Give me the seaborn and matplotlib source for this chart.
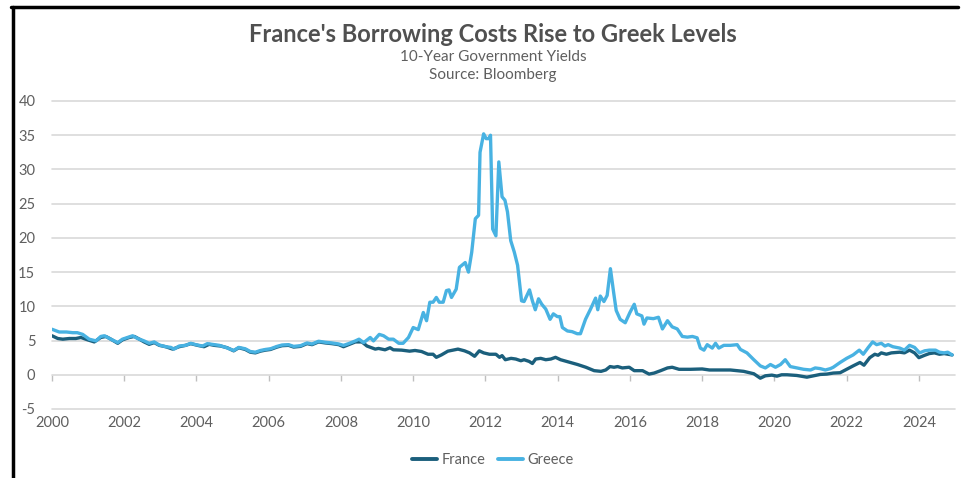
import numpy as np
import pandas as pd
import matplotlib
matplotlib.use("Agg")
import matplotlib.pyplot as plt
from matplotlib.lines import Line2D
import seaborn as sns

# ---------------- data (decimal years, % yields) ----------------
greece_t = [2000.0, 2000.2, 2000.4, 2000.57, 2000.7, 2000.85, 2001.03, 2001.22, 2001.35, 2001.45,
            2001.63, 2001.82, 2001.95, 2002.09, 2002.23, 2002.37, 2002.55, 2002.69, 2002.83, 2002.97,
            2003.15, 2003.29, 2003.38, 2003.52, 2003.7, 2003.84, 2003.98, 2004.17, 2004.3, 2004.44,
            2004.63, 2004.81, 2005.03, 2005.17, 2005.35, 2005.49, 2005.63, 2005.77, 2005.91, 2006.05,
            2006.23, 2006.37, 2006.55, 2006.69, 2006.88, 2007.06, 2007.2, 2007.38, 2007.57, 2007.75,
            2007.94, 2008.07, 2008.21, 2008.4, 2008.5, 2008.63, 2008.81, 2008.9, 2009.06, 2009.18,
            2009.32, 2009.45, 2009.6, 2009.72, 2009.87, 2010.0, 2010.14, 2010.28, 2010.37, 2010.46,
            2010.55, 2010.64, 2010.72, 2010.83, 2010.92, 2010.99, 2011.06, 2011.19, 2011.28, 2011.44,
            2011.53, 2011.62, 2011.72, 2011.81, 2011.85, 2011.95, 2012.02, 2012.09, 2012.14, 2012.2,
            2012.29, 2012.37, 2012.46, 2012.54, 2012.61, 2012.7, 2012.8, 2012.89, 2013.0, 2013.07,
            2013.15, 2013.22, 2013.3, 2013.38, 2013.47, 2013.56, 2013.67, 2013.79, 2013.88, 2013.99,
            2014.06, 2014.13, 2014.27, 2014.4, 2014.54, 2014.63, 2014.77, 2014.91, 2015.05, 2015.11,
            2015.18, 2015.28, 2015.37, 2015.46, 2015.55, 2015.62, 2015.73, 2015.87, 2016.0, 2016.12,
            2016.19, 2016.33, 2016.39, 2016.47, 2016.65, 2016.79, 2016.9, 2017.04, 2017.17, 2017.31,
            2017.45, 2017.59, 2017.73, 2017.86, 2017.95, 2018.05, 2018.14, 2018.28, 2018.37, 2018.46,
            2018.6, 2018.78, 2018.97, 2019.06, 2019.24, 2019.43, 2019.61, 2019.75, 2019.89, 2020.03,
            2020.17, 2020.3, 2020.44, 2020.63, 2020.81, 2021.0, 2021.13, 2021.27, 2021.41, 2021.55,
            2021.63, 2021.82, 2022.0, 2022.18, 2022.35, 2022.46, 2022.6, 2022.72, 2022.83, 2022.96,
            2023.06, 2023.15, 2023.28, 2023.47, 2023.6, 2023.74, 2023.88, 2024.02, 2024.16, 2024.29,
            2024.46, 2024.57, 2024.7, 2024.8, 2024.92]
greece_y = [6.65, 6.25, 6.25, 6.15, 6.15, 5.9, 5.2, 4.95, 5.6, 5.7,
            5.2, 4.7, 5.2, 5.45, 5.7, 5.3, 4.95, 4.6, 4.8, 4.35,
            4.1, 4.0, 3.75, 4.2, 4.3, 4.6, 4.4, 4.2, 4.55, 4.45,
            4.3, 4.0, 3.55, 4.0, 3.8, 3.4, 3.3, 3.55, 3.7, 3.8,
            4.15, 4.35, 4.4, 4.15, 4.25, 4.65, 4.5, 4.9, 4.75, 4.65,
            4.5, 4.3, 4.55, 4.95, 5.2, 4.7, 5.45, 4.95, 5.9, 5.7,
            5.2, 5.2, 4.6, 4.6, 5.45, 6.9, 6.6, 9.1, 7.9, 10.6,
            10.6, 11.3, 10.6, 10.6, 12.3, 12.4, 11.3, 12.5, 15.7, 16.4,
            15.0, 17.9, 22.8, 23.3, 32.5, 35.2, 34.5, 34.5, 35.0, 21.3,
            20.3, 31.1, 26.0, 25.5, 23.8, 19.6, 17.9, 16.0, 10.8, 10.7,
            11.6, 12.4, 10.8, 9.5, 11.1, 10.3, 9.6, 8.1, 8.9, 8.5,
            8.5, 6.9, 6.4, 6.3, 6.0, 6.0, 8.1, 9.6, 11.2, 9.5,
            11.5, 10.7, 11.6, 15.5, 12.0, 9.4, 8.1, 7.6, 9.1, 10.3,
            8.9, 8.6, 7.4, 8.3, 8.2, 8.4, 6.7, 7.9, 7.0, 6.7,
            5.6, 5.5, 5.6, 5.4, 3.9, 3.6, 4.4, 3.9, 4.6, 3.9,
            4.3, 4.3, 4.4, 3.7, 3.2, 2.2, 1.3, 1.0, 1.5, 1.1,
            1.5, 2.2, 1.2, 1.0, 0.8, 0.7, 1.0, 0.9, 0.7, 0.9,
            1.1, 1.8, 2.4, 2.9, 3.6, 3.0, 4.0, 4.8, 4.4, 4.6,
            4.2, 4.4, 4.1, 3.9, 3.6, 4.3, 4.0, 3.2, 3.5, 3.6,
            3.6, 3.3, 3.2, 3.3, 2.9]

france_t = [2000.0, 2000.16, 2000.3, 2000.48, 2000.66, 2000.8, 2000.99, 2001.17, 2001.35, 2001.49,
            2001.63, 2001.82, 2001.95, 2002.14, 2002.28, 2002.42, 2002.55, 2002.69, 2002.83, 2002.97,
            2003.15, 2003.34, 2003.52, 2003.7, 2003.84, 2004.03, 2004.21, 2004.35, 2004.49, 2004.67,
            2004.85, 2005.03, 2005.17, 2005.35, 2005.49, 2005.63, 2005.77, 2005.91, 2006.05, 2006.23,
            2006.37, 2006.55, 2006.69, 2006.88, 2007.06, 2007.2, 2007.38, 2007.57, 2007.75, 2007.94,
            2008.07, 2008.21, 2008.4, 2008.58, 2008.72, 2008.95, 2009.04, 2009.22, 2009.36, 2009.45,
            2009.68, 2009.9, 2010.05, 2010.23, 2010.41, 2010.55, 2010.64, 2010.78, 2010.96, 2011.15,
            2011.24, 2011.42, 2011.56, 2011.7, 2011.83, 2011.95, 2012.11, 2012.29, 2012.39, 2012.46,
            2012.55, 2012.71, 2012.84, 2012.98, 2013.07, 2013.21, 2013.3, 2013.39, 2013.53, 2013.67,
            2013.81, 2013.94, 2014.08, 2014.28, 2014.55, 2014.78, 2015.01, 2015.2, 2015.33, 2015.45,
            2015.56, 2015.66, 2015.79, 2015.98, 2016.12, 2016.35, 2016.53, 2016.67, 2016.85, 2017.04,
            2017.17, 2017.36, 2017.68, 2018.0, 2018.2, 2018.41, 2018.78, 2019.15, 2019.43, 2019.61,
            2019.75, 2019.93, 2020.07, 2020.2, 2020.35, 2020.62, 2020.9, 2021.08, 2021.27, 2021.45,
            2021.63, 2021.82, 2022.0, 2022.18, 2022.37, 2022.48, 2022.64, 2022.78, 2022.87, 2022.96,
            2023.1, 2023.24, 2023.47, 2023.6, 2023.74, 2023.88, 2024.0, 2024.16, 2024.29, 2024.43,
            2024.57, 2024.7, 2024.92]
france_y = [5.7, 5.3, 5.2, 5.3, 5.3, 5.45, 5.1, 4.8, 5.45, 5.6,
            5.2, 4.6, 5.1, 5.45, 5.6, 5.2, 4.8, 4.45, 4.7, 4.3,
            4.1, 3.75, 4.1, 4.3, 4.55, 4.3, 4.1, 4.45, 4.3, 4.2,
            3.95, 3.5, 3.95, 3.7, 3.3, 3.2, 3.45, 3.6, 3.7, 4.05,
            4.25, 4.3, 4.05, 4.15, 4.55, 4.4, 4.8, 4.65, 4.55, 4.4,
            4.1, 4.4, 4.8, 4.8, 4.2, 3.75, 3.85, 3.65, 3.95, 3.65,
            3.6, 3.45, 3.55, 3.4, 3.0, 3.0, 2.55, 2.9, 3.45, 3.65,
            3.75, 3.5, 3.2, 2.7, 3.5, 3.2, 3.0, 3.0, 2.55, 2.8,
            2.2, 2.4, 2.3, 2.05, 2.2, 1.95, 1.65, 2.3, 2.4, 2.2,
            2.3, 2.55, 2.2, 1.9, 1.5, 1.1, 0.6, 0.5, 0.7, 1.2,
            1.1, 1.2, 1.0, 1.1, 0.6, 0.6, 0.1, 0.25, 0.6, 1.0,
            1.1, 0.8, 0.8, 0.85, 0.7, 0.7, 0.7, 0.5, 0.15, -0.5,
            -0.15, -0.05, -0.2, 0.0, 0.0, -0.1, -0.35, -0.15, 0.05, 0.1,
            0.25, 0.3, 0.8, 1.3, 1.8, 1.4, 2.5, 3.0, 2.85, 3.2,
            3.0, 3.2, 3.3, 3.2, 3.6, 3.2, 2.5, 2.85, 3.1, 3.2,
            3.0, 3.1, 2.9]

countries = ["France", "Greece"]
colors = ["#1b5f7c", "#48b2e2"]
y_ticks = [-5, 0, 5, 10, 15, 20, 25, 30, 35, 40]
x_ticks = [2000, 2002, 2004, 2006, 2008, 2010, 2012, 2014, 2016, 2018, 2020, 2022, 2024]

title = "France's Borrowing Costs Rise to Greek Levels"
subtitle1 = "10-Year Government Yields"
subtitle2 = "Source: Bloomberg"

df = pd.concat([
    pd.DataFrame({"year": france_t, "yield": france_y, "country": "France"}),
    pd.DataFrame({"year": greece_t, "yield": greece_y, "country": "Greece"}),
])

# ---------------- figure ----------------
sns.set_theme(style="white")
plt.rcParams["font.family"] = ["Lato", "DejaVu Sans"]

W, H = 961, 478
fig = plt.figure(figsize=(W / 100, H / 100), dpi=100)
ax = fig.add_axes([52 / W, 1 - 409 / H, 903 / W, (409 - 101) / H])

sns.lineplot(data=df, x="year", y="yield", hue="country", hue_order=countries,
             palette=colors, linewidth=2.4, estimator=None, sort=True, ax=ax,
             legend=False)

ax.set_xlim(2000, 2025)
ax.set_ylim(-5, 40)
ax.set_yticks(y_ticks)
ax.set_xticks(x_ticks)
ax.set_xticklabels([str(v) for v in x_ticks])
ax.set_yticklabels([str(v) for v in y_ticks])
ax.set_xlabel("")
ax.set_ylabel("")

grid_c = "#d9d9d9"
ax.grid(axis="y", color=grid_c, linewidth=1.2, zorder=0)
ax.grid(axis="x", visible=False)
ax.set_axisbelow(True)
for s in ax.spines.values():
    s.set_visible(False)
for gl in ax.get_ygridlines():
    gl.set_clip_on(False)

lab_c = "#5f5f5f"
ax.tick_params(axis="y", length=0, pad=12, labelsize=10.5, labelcolor=lab_c)
ax.tick_params(axis="x", length=0, pad=5, labelsize=10.5, labelcolor=lab_c)

# tick marks on the zero line
sec = ax.secondary_xaxis(5 / 45)
sec.set_xticks(x_ticks)
sec.tick_params(axis="x", length=4, width=1, color="#bfbfbf", labelbottom=False)
sec.spines["bottom"].set_visible(False)

# legend
handles = [Line2D([0], [0], color=c, lw=2.8) for c in colors]
leg = fig.legend(handles, countries, loc="center", bbox_to_anchor=(493 / W, 1 - 460 / H),
                 ncol=2, frameon=False, fontsize=10.5, handlelength=1.7, handletextpad=0.3,
                 columnspacing=0.9)
for t in leg.get_texts():
    t.set_color(lab_c)

# titles
fig.text(493 / W, 1 - 34 / H, title, ha="center", va="center", fontsize=17,
         fontweight="bold", color="#505050")
fig.text(493 / W, 1 - 57 / H, subtitle1, ha="center", va="center", fontsize=11, color=lab_c)
fig.text(493 / W, 1 - 75 / H, subtitle2, ha="center", va="center", fontsize=11, color=lab_c)

# frame (top and left black border)
fig.add_artist(Line2D([12.5 / W, 12.5 / W], [0, 1 - 7 / H], color="black", lw=2.5,
                      transform=fig.transFigure))
fig.add_artist(Line2D([11 / W, 958 / W], [1 - 7 / H, 1 - 7 / H], color="black", lw=2.5,
                      transform=fig.transFigure))

fig.savefig("out.png", dpi=100)
